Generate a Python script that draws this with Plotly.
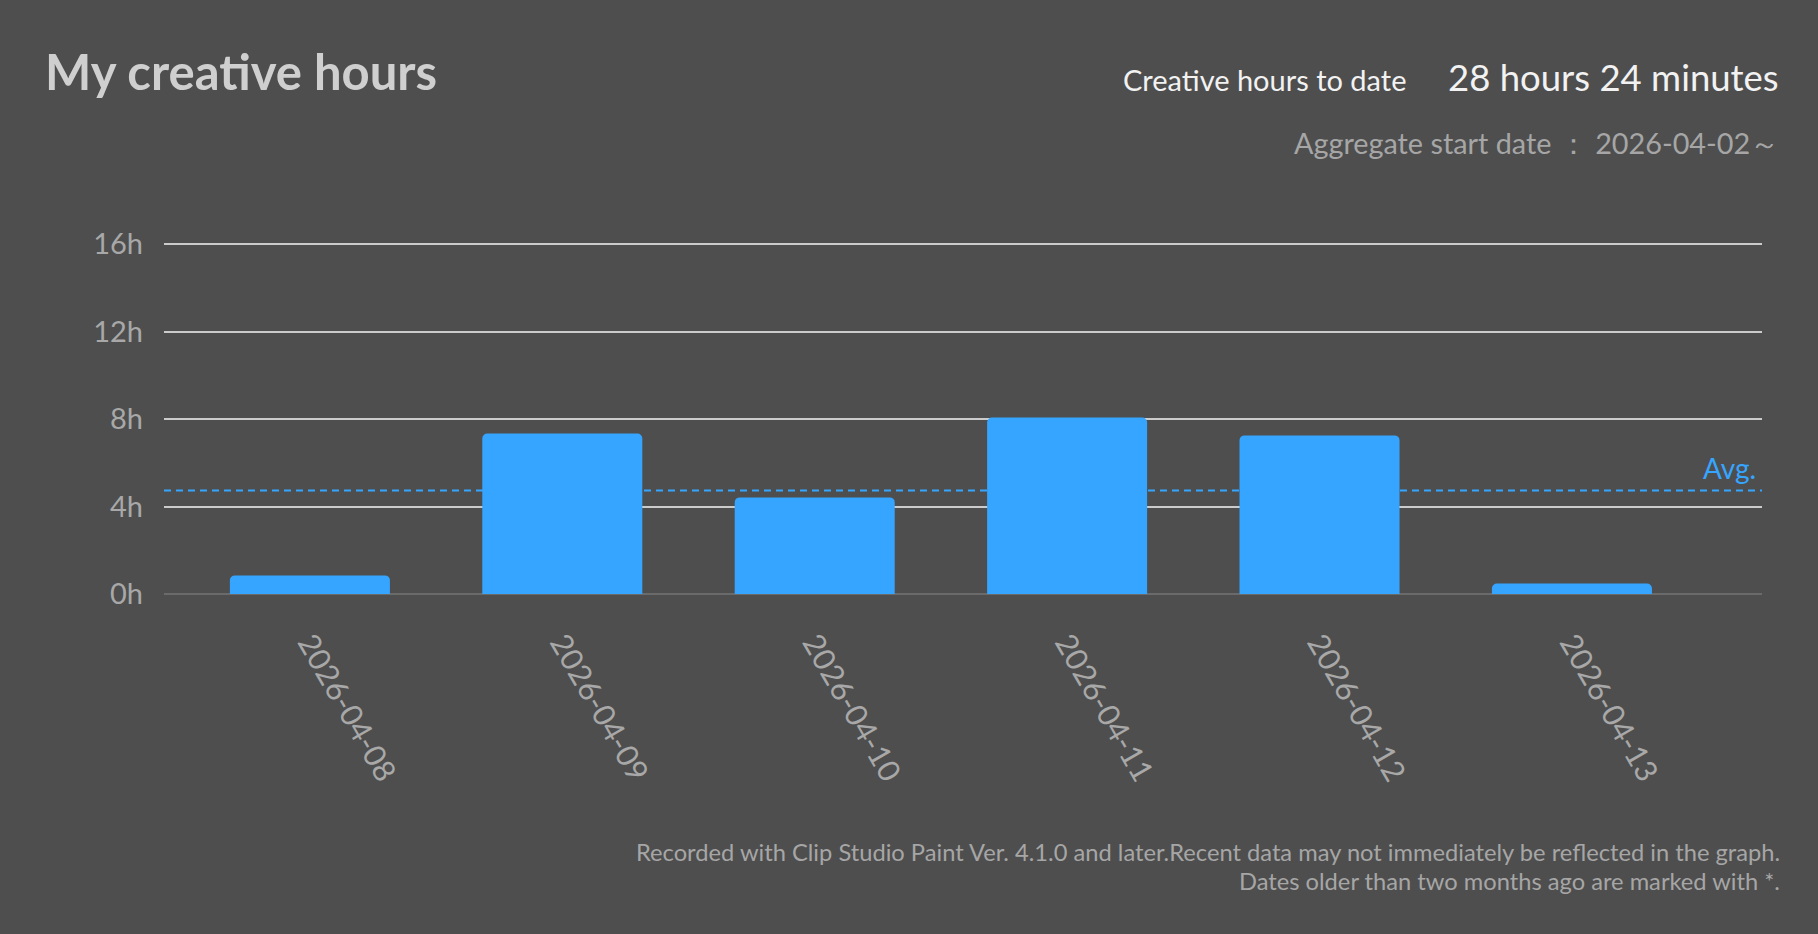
import plotly.graph_objects as go

# ---- data ----
dates = ["2026-04-08", "2026-04-09", "2026-04-10", "2026-04-11", "2026-04-12", "2026-04-13"]
minutes = [51, 440, 265, 484, 435, 29]
hours = [m / 60 for m in minutes]
y_tick_vals = [0, 4, 8, 12, 16]
y_tick_text = ["0h", "4h", "8h", "12h", "16h"]
total_minutes = sum(minutes)
avg_hours = sum(hours) / len(hours)
start_date = "2026-04-02"

# ---- layout geometry (pixels) ----
W, H = 1818, 934
PL, PR, PT, PB = 164, 1762, 240, 594

BG = "#4e4e4e"
BAR = "#36a5ff"


def px(x):
    return (x - PL) / (PR - PL)


def py(y):
    return (PB - y) / (PB - PT)


fig = go.Figure()
fig.add_trace(go.Bar(
    x=list(range(len(dates))), y=hours,
    marker=dict(color=BAR, cornerradius=5, line=dict(width=0)),
    width=0.634, hoverinfo="skip",
))

fig.add_shape(type="line", xref="paper", yref="y", x0=0, x1=1,
              y0=avg_hours, y1=avg_hours, layer="below",
              line=dict(color=BAR, width=2, dash="7px,5px"))

font_main = "Lato, 'Open Sans', sans-serif"
annos = [
    dict(text="<b>My creative hours</b>", x=px(43), y=py(71), xanchor="left",
         font=dict(size=49, color="#cfcfcf")),
    dict(text="Creative hours to date", x=px(1408), y=py(80), xanchor="right",
         font=dict(size=29, color="#f2f2f2")),
    dict(text=f"{total_minutes // 60} hours {total_minutes % 60} minutes", x=px(1781), y=py(77),
         xanchor="right", font=dict(size=36.5, color="#f2f2f2")),
    dict(text=f"Aggregate start date ： {start_date}～", x=px(1781), y=py(143), xanchor="right",
         font=dict(size=28.8, color="#a6a6a6")),
    dict(text="Avg.", x=px(1758), y=py(468), xanchor="right",
         font=dict(size=28, color=BAR)),
    dict(text="Recorded with Clip Studio Paint Ver. 4.1.0 and later.Recent data may not immediately be reflected in the graph.",
         x=px(1782), y=py(852), xanchor="right", font=dict(size=23.7, color="#a6a6a6")),
    dict(text="Dates older than two months ago are marked with *.",
         x=px(1782), y=py(881), xanchor="right", font=dict(size=23.7, color="#a6a6a6")),
]
for a in annos:
    a.update(xref="paper", yref="paper", showarrow=False, yanchor="middle")
    fig.add_annotation(**a)

fig.update_layout(
    width=W, height=H,
    paper_bgcolor=BG, plot_bgcolor=BG,
    margin=dict(l=PL, r=W - PR, t=PT, b=H - PB, pad=0),
    font=dict(family=font_main, color="#a8a8a8"),
    showlegend=False,
    bargap=0.366,
)
fig.update_xaxes(
    range=[-0.578, 5.753], tickmode="array", tickvals=list(range(len(dates))),
    ticktext=dates, tickangle=60, tickfont=dict(size=30.5, color="#a8a8a8"),
    showgrid=False, zeroline=False, showline=False, ticks="", ticklabelstandoff=24,
    fixedrange=True,
)
fig.update_yaxes(
    range=[0, 16 * (PB - PT) / (PB - 244)], tickmode="array", tickvals=y_tick_vals,
    ticktext=y_tick_text, tickfont=dict(size=29, color="#a8a8a8"),
    showgrid=True, gridcolor="#cbcbcb", gridwidth=2,
    zeroline=True, zerolinecolor="#6a6a6a", zerolinewidth=2,
    showline=False, ticks="", ticklabelstandoff=20, fixedrange=True,
)

fig.write_html(
    "out.html",
    config={"displayModeBar": False},
    post_script="document.body.style.margin='0';document.body.style.overflow='hidden';",
)
